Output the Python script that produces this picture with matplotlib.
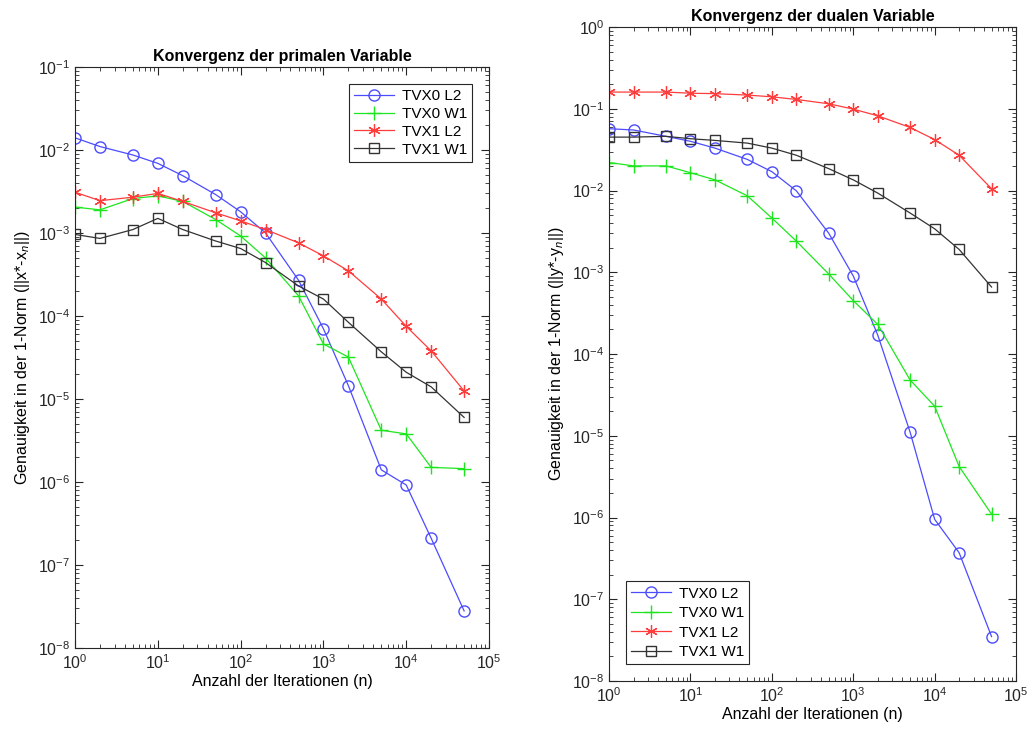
import matplotlib
matplotlib.use("Agg")
import matplotlib.pyplot as plt
import numpy as np

plt.rcParams['font.family'] = ['Liberation Sans', 'DejaVu Sans']
plt.rcParams['mathtext.fontset'] = 'custom'
plt.rcParams['mathtext.rm'] = 'Liberation Sans'
plt.rcParams['mathtext.it'] = 'Liberation Sans:italic'

n = [1, 2, 5, 10, 20, 50, 100, 200, 500, 1000, 2000, 5000, 10000, 20000, 50000]
labels = ["TVX0 L2", "TVX0 W1", "TVX1 L2", "TVX1 W1"]

# primale Variable
p_tvx0_l2 = [1.4e-2, 1.1e-2, 8.7e-3, 6.9e-3, 4.9e-3, 2.9e-3, 1.8e-3, 1.0e-3, 2.7e-4, 7.0e-5, 1.45e-5, 1.4e-6, 9.2e-7, 2.1e-7, 2.8e-8]
p_tvx0_w1 = [2.05e-3, 1.9e-3, 2.6e-3, 2.8e-3, 2.4e-3, 1.45e-3, 9.2e-4, 5.0e-4, 1.75e-4, 4.6e-5, 3.2e-5, 4.2e-6, 3.8e-6, 1.5e-6, 1.45e-6]
p_tvx1_l2 = [3.1e-3, 2.45e-3, 2.7e-3, 3.0e-3, 2.4e-3, 1.75e-3, 1.4e-3, 1.1e-3, 7.6e-4, 5.3e-4, 3.5e-4, 1.6e-4, 7.5e-5, 3.8e-5, 1.25e-5]
p_tvx1_w1 = [9.6e-4, 8.6e-4, 1.1e-3, 1.5e-3, 1.1e-3, 8.0e-4, 6.5e-4, 4.4e-4, 2.3e-4, 1.6e-4, 8.4e-5, 3.7e-5, 2.1e-5, 1.4e-5, 6.0e-6]

# duale Variable
d_tvx0_l2 = [0.057, 0.055, 0.046, 0.040, 0.033, 0.024, 0.017, 0.0099, 0.003, 9e-4, 1.7e-4, 1.1e-5, 9.5e-7, 3.7e-7, 3.5e-8]
d_tvx0_w1 = [0.022, 0.020, 0.020, 0.0165, 0.0135, 0.0086, 0.0046, 0.0024, 9.5e-4, 4.5e-4, 2.3e-4, 4.8e-5, 2.3e-5, 4.2e-6, 1.1e-6]
d_tvx1_l2 = [0.16, 0.16, 0.16, 0.155, 0.153, 0.147, 0.14, 0.13, 0.115, 0.099, 0.082, 0.059, 0.042, 0.027, 0.0105]
d_tvx1_w1 = [0.045, 0.045, 0.046, 0.043, 0.041, 0.038, 0.033, 0.027, 0.0185, 0.0135, 0.0093, 0.0053, 0.0034, 0.0019, 6.6e-4]

styles = [
    dict(color='#4c4cff', marker='o', mfc='none', ms=8),
    dict(color='#1ee61e', marker='+', ms=10),
    dict(color='#ff3c3c', marker=(6, 2, 0), ms=9, mew=0.9),
    dict(color='#333333', marker='s', mfc='none', ms=7),
]

fig = plt.figure(figsize=(10.35, 7.4), dpi=100)
ax1 = fig.add_axes([0.0725, 0.1243, 0.4000, 0.7852])
ax2 = fig.add_axes([0.5885, 0.0797, 0.3932, 0.8838])

def draw(ax, series, title, ylabel, ylim, loc, lspace):
    for y, lab, st in zip(series, labels, styles):
        ax.loglog(n, y, linewidth=0.9, label=lab, **st)
    ax.set_xlim(1, 1e5)
    ax.set_ylim(*ylim)
    ax.set_title(title, fontsize=11.5, fontweight='bold', pad=4)
    ax.set_xlabel("Anzahl der Iterationen (n)", fontsize=11.5, labelpad=2)
    ax.set_ylabel(ylabel, fontsize=11.5)
    ax.yaxis.set_major_locator(matplotlib.ticker.LogLocator(base=10, numticks=20))
    ax.yaxis.set_minor_locator(matplotlib.ticker.LogLocator(base=10, subs=np.arange(2, 10), numticks=20))
    ax.yaxis.set_minor_formatter(matplotlib.ticker.NullFormatter())
    ax.tick_params(which='both', direction='in', top=True, right=True, labelsize=11.5, colors='#262626')
    ax.tick_params(which='major', length=6)
    ax.tick_params(which='minor', length=3)
    for s in ax.spines.values():
        s.set_color('#262626')
        s.set_linewidth(0.8)
    leg = ax.legend(loc=loc, fontsize=11, fancybox=False, framealpha=1, edgecolor='#262626',
                    handlelength=2.6, borderpad=0.35, labelspacing=lspace, borderaxespad=1.1,
                    handletextpad=0.5)
    leg.get_frame().set_linewidth(0.8)

draw(ax1, [p_tvx0_l2, p_tvx0_w1, p_tvx1_l2, p_tvx1_w1], "Konvergenz der primalen Variable",
     "Genauigkeit in der 1-Norm (||x*-x$_n$||)", (1e-8, 1e-1), 'upper right', 0.25)
draw(ax2, [d_tvx0_l2, d_tvx0_w1, d_tvx1_l2, d_tvx1_w1], "Konvergenz der dualen Variable",
     "Genauigkeit in der 1-Norm (||y*-y$_n$||)", (1e-8, 1), 'lower left', 0.35)

fig.savefig("out.png", dpi=100)
